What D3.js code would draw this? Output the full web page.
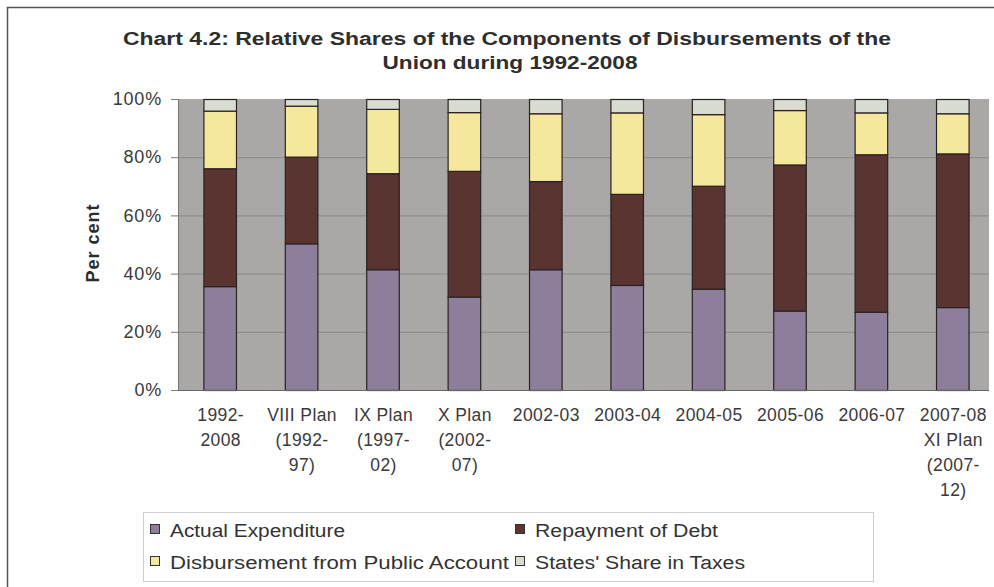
<!DOCTYPE html>
<html>
<head>
<meta charset="utf-8">
<script src="https://cdn.jsdelivr.net/npm/d3@7"></script>
<style>
  html, body { margin: 0; padding: 0; background: #ffffff; }
  svg { display: block; font-family: "Liberation Sans", Arial, sans-serif; }
</style>
</head>
<body>
<svg id="chart" width="994" height="587"></svg>
<script>
// ---- Data ----
const categories = [
  ["1992-", "2008"],
  ["VIII Plan", "(1992-", "97)"],
  ["IX Plan", "(1997-", "02)"],
  ["X Plan", "(2002-", "07)"],
  ["2002-03"],
  ["2003-04"],
  ["2004-05"],
  ["2005-06"],
  ["2006-07"],
  ["2007-08", "XI Plan", "(2007-", "12)"]
];
const seriesNames = ["Actual Expenditure", "Repayment of Debt", "Disbursement from Public Account", "States' Share in Taxes"];
const actualExpenditure   = [35.7, 50.4, 41.5, 32.1, 41.5, 36.1, 34.8, 27.3, 26.9, 28.5];
const repaymentOfDebt     = [40.5, 29.8, 33.0, 43.2, 30.3, 31.3, 35.4, 50.2, 54.1, 52.8];
const publicAccount       = [19.8, 17.5, 22.1, 20.2, 23.3, 28.0, 24.6, 18.7, 14.4, 13.8];
const statesShare         = [4.0, 2.3, 3.4, 4.5, 4.9, 4.6, 5.2, 3.8, 4.6, 4.9];
const yTicks = [0, 20, 40, 60, 80, 100];
const yTickLabels = ["0%", "20%", "40%", "60%", "80%", "100%"];
const titleLines = ["Chart 4.2: Relative Shares of the Components of Disbursements of the", "Union during 1992-2008"];
const yAxisTitle = "Per cent";

// ---- Styling / layout ----
const colors = ["#8d7e9b", "#5a3430", "#f5e79c", "#d9dcd0"];
const titleWidths = [768, 255];
const legendWidths = [175, 183, 339, 210];
const legPos = [[150, 530], [515, 530], [150, 562], [515, 562]];

// ---- Build table ----
const keys = ["ae", "rd", "pa", "ss"];
const table = categories.map((c, i) => ({
  idx: i, ae: actualExpenditure[i], rd: repaymentOfDebt[i], pa: publicAccount[i], ss: statesShare[i]
}));
const stacked = d3.stack().keys(keys)(table);

const svg = d3.select("#chart");
const plot = { left: 178, right: 989, top: 99, bottom: 390 };

const x = d3.scaleBand().domain(d3.range(categories.length)).range([179, 993]).paddingInner(0.6).paddingOuter(0.3);
const y = d3.scaleLinear().domain([0, 100]).range([plot.bottom, plot.top]);

// Outer frame
svg.append("rect").attr("x", 7.5).attr("y", 7.5).attr("width", 1000).attr("height", 600)
  .attr("fill", "#fefefe").attr("stroke", "#555").attr("stroke-width", 1.5);

// Title
svg.append("g").selectAll("text").data(titleLines).join("text")
  .attr("x", (d, i) => i === 0 ? 507 : 510).attr("y", (d, i) => 45 + i * 24)
  .attr("text-anchor", "middle")
  .attr("font-size", 18).attr("font-weight", "bold").attr("fill", "#2e2e2e")
  .attr("textLength", (d, i) => titleWidths[i]).attr("lengthAdjust", "spacingAndGlyphs")
  .text(d => d);

// Plot background
svg.append("rect").attr("x", plot.left).attr("y", plot.top)
  .attr("width", plot.right - plot.left).attr("height", plot.bottom - plot.top)
  .attr("fill", "#aaa8a6");

// Gridlines
svg.append("g").selectAll("line").data(yTicks.filter(t => t > 0 && t < 100)).join("line")
  .attr("x1", plot.left).attr("x2", plot.right)
  .attr("y1", d => y(d) + 0.5).attr("y2", d => y(d) + 0.5)
  .attr("stroke", "#8b8987").attr("stroke-width", 1);

// Y axis
const yAxis = d3.axisLeft(y).tickValues(yTicks).tickFormat((d, i) => yTickLabels[i]).tickSize(7).tickPadding(9);
const gy = svg.append("g").attr("transform", `translate(${plot.left},0)`).call(yAxis);
gy.select(".domain").attr("stroke", "#777");
gy.selectAll(".tick line").attr("stroke", "#777");
gy.selectAll(".tick text").attr("font-size", 18).attr("fill", "#3a3a3a")
  .attr("font-family", "'Liberation Sans', Arial, sans-serif").attr("letter-spacing", 0.8);

// Y axis title
svg.append("text").attr("transform", "translate(99,243) rotate(-90)")
  .attr("text-anchor", "middle").attr("font-size", 18).attr("font-weight", "bold").attr("fill", "#2b2b2b")
  .attr("letter-spacing", 1)
  .text(yAxisTitle);

// Bars
svg.append("g").selectAll("g").data(stacked).join("g")
  .attr("fill", (d, i) => colors[i])
  .selectAll("rect").data(d => d).join("rect")
  .attr("x", d => x(d.data.idx) + 0.5)
  .attr("y", d => y(d[1]) + 0.5)
  .attr("width", x.bandwidth())
  .attr("height", d => y(d[0]) - y(d[1]))
  .attr("stroke", "#2a2222").attr("stroke-width", 1.2);

// X axis line
svg.append("line").attr("x1", plot.left).attr("x2", plot.right)
  .attr("y1", plot.bottom + 0.5).attr("y2", plot.bottom + 0.5).attr("stroke", "#666");

// X labels
const xl = svg.append("g").selectAll("text").data(categories).join("text")
  .attr("text-anchor", "middle").attr("font-size", 17.5).attr("fill", "#3a3a3a")
  .attr("letter-spacing", 0.4);
xl.each(function(lines, i) {
  d3.select(this).selectAll("tspan").data(lines).join("tspan")
    .attr("x", x(i) + x.bandwidth() / 2 + 1)
    .attr("y", (d, j) => 421 + j * 25)
    .text(d => d);
});

// Legend
const legend = svg.append("g");
legend.append("rect").attr("x", 143.5).attr("y", 512.5).attr("width", 730).attr("height", 69)
  .attr("fill", "#ffffff").attr("stroke", "#cfcfcf");
const li = legend.selectAll("g.item").data(seriesNames).join("g").attr("class", "item")
  .attr("transform", (d, i) => `translate(${legPos[i][0]},${legPos[i][1]})`);
li.append("rect").attr("x", 0.5).attr("y", -5.5).attr("width", 9).attr("height", 9)
  .attr("fill", (d, i) => colors[i]).attr("stroke", "#333");
li.append("text").attr("x", 20).attr("y", 6.5).attr("font-size", 18).attr("fill", "#333")
  .attr("textLength", (d, i) => legendWidths[i]).attr("lengthAdjust", "spacingAndGlyphs")
  .text(d => d);
</script>
</body>
</html>
